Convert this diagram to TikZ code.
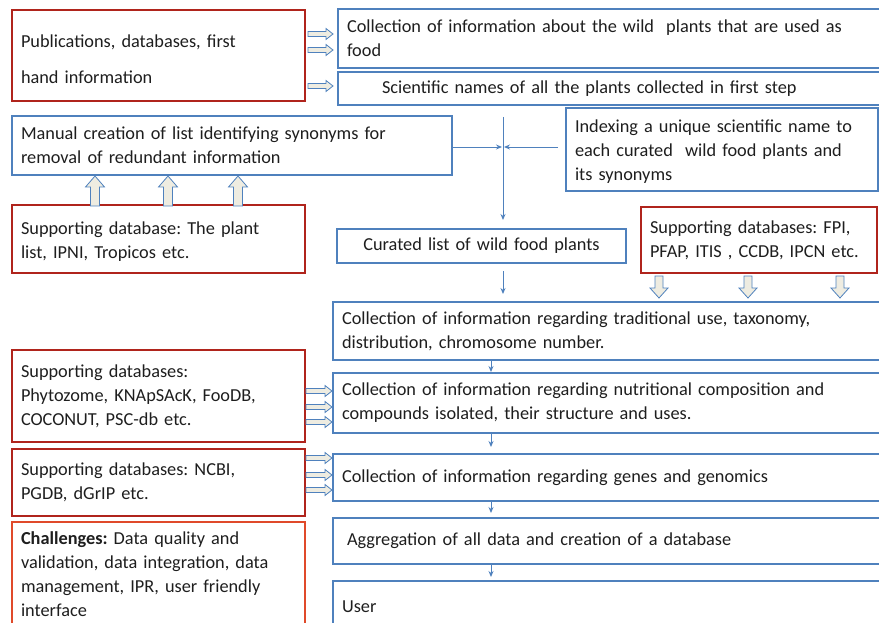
\documentclass[tikz,border=0pt]{standalone}
\usepackage{fontspec}
\setmainfont{Carlito}
\usetikzlibrary{calc,arrows.meta}
\frenchspacing

\definecolor{boxblue}{HTML}{4F81BD}
\definecolor{boxred}{HTML}{B0241C}
\definecolor{boxorange}{HTML}{E04A2A}
\definecolor{arrowfill}{HTML}{EEECE1}
\definecolor{ink}{HTML}{1E1E1E}

\tikzset{
  box/.style={draw, line width=1.8pt, outer sep=0pt, inner xsep=9pt, inner ysep=0pt,
    anchor=north west, align=left, text=ink, font=\fontsize{18.3}{24}\selectfont},
  bluebox/.style={box, draw=boxblue},
  redbox/.style={box, draw=boxred},
  chalbox/.style={box, draw=boxorange},
  flow/.style={draw=boxblue, line width=0.9pt, -{Stealth[length=6pt,width=5pt]}},
  hollow/.style={draw=boxblue, fill=arrowfill, line width=0.8pt, line join=miter},
}

% block arrow: #1 tail, #2 tip, #3 shaft half width, #4 head half width, #5 head length
\newcommand\blockarrow[5]{%
  \coordinate (ba-s) at #1;
  \coordinate (ba-t) at #2;
  \coordinate (ba-b) at ($(ba-t)!#5pt!(ba-s)$);
  \path[hollow] ($(ba-s)!#3pt!90:(ba-t)$) -- ($(ba-b)!#3pt!-90:(ba-s)$)
    -- ($(ba-b)!#4pt!-90:(ba-s)$) -- (ba-t) -- ($(ba-b)!#4pt!90:(ba-s)$)
    -- ($(ba-b)!#3pt!90:(ba-s)$) -- ($(ba-s)!#3pt!-90:(ba-t)$) -- cycle;
}

\begin{document}
\begin{tikzpicture}[x=1pt,y=-1pt]
\useasboundingbox (0,0) rectangle (879,623);

% sources and first steps
\node[redbox, minimum height=91, text width=275] (pub) at (12,10)
  {\rule{0pt}{20pt}Publications, databases, first\\[12pt]hand information};
\node[bluebox, minimum height=59, text width=526] (col) at (338,9)
  {Collection of information about the wild\ \ plants that are used as\\food};
\node[bluebox, minimum height=33, text width=526] (sci) at (338,72)
  {\hspace*{35pt}Scientific names of all the plants collected in first step};

% synonym curation
\node[bluebox, minimum height=59, text width=422] (manual) at (12,116)
  {Manual creation of list identifying synonyms for\\removal of redundant information};
\node[bluebox, minimum height=83, text width=294] (idx) at (566,108)
  {\rule{0pt}{17pt}\mbox{Indexing a unique scientific name to}\\each curated\ \ wild food plants and\\its synonyms};
\node[redbox, minimum height=68, text width=275] (plist) at (12,205)
  {\rule{0pt}{18pt}Supporting database: The plant\\list, IPNI, Tropicos etc.};
\node[bluebox, minimum height=34, text width=271, align=center] (cur) at (337,229)
  {Curated list of wild food plants};
\node[redbox, minimum height=66, text width=218] (fpi) at (641,207)
  {Supporting databases: FPI,\\\mbox{PFAP, ITIS , CCDB, IPCN etc.}};

% main pipeline
\node[bluebox, minimum height=58, text width=531] (trad) at (333,302)
  {Collection of information regarding traditional use, taxonomy,\\distribution, chromosome number.};
\node[bluebox, minimum height=60, text width=531] (nut) at (333,373)
  {Collection of information regarding nutritional composition and\\compounds isolated, their structure and uses.};
\node[bluebox, minimum height=47, text width=531] (gen) at (333,454)
  {Collection of information regarding genes and genomics};
\node[bluebox, minimum height=46, text width=531] (agg) at (333,518)
  {\hspace*{5pt}Aggregation of all data and creation of a database};
\node[bluebox, minimum height=52, text width=531] (user) at (333,581)
  {User};

% supporting resources and challenges
\node[redbox, minimum height=92, text width=275] (phy) at (12,350)
  {Supporting databases:\\Phytozome, KNApSAcK, FooDB,\\COCONUT, PSC-db etc.};
\node[redbox, minimum height=67, text width=275] (ncbi) at (12,449)
  {Supporting databases: NCBI,\\PGDB, dGrIP etc.};
\node[chalbox, minimum height=104, text width=275] (chal) at (12,522)
  {\textbf{Challenges:} Data quality and\\validation, data integration, data\\management, IPR, user friendly\\interface};

% hollow block arrows
\blockarrow{($(pub.north east)+(3,24)$)}{($(col.north west)+(-5,25)$)}{2.5}{5.5}{7}
\blockarrow{($(pub.north east)+(3,40)$)}{($(col.north west)+(-5,41)$)}{2.5}{5.5}{7}
\blockarrow{($(pub.north east)+(3,76)$)}{($(sci.north west)+(-5,14)$)}{2.5}{5.5}{7}

\blockarrow{($(plist.north west)+(83,1)$)}{($(manual.south west)+(83,1)$)}{4.5}{9.5}{11}
\blockarrow{($(plist.north west)+(156,1)$)}{($(manual.south west)+(156,1)$)}{4.5}{9.5}{11}
\blockarrow{($(plist.north west)+(226,1)$)}{($(manual.south west)+(226,1)$)}{4.5}{9.5}{11}

\blockarrow{($(fpi.south west)+(18,3)$)}{($(trad.north west)+(326,-4)$)}{4}{9}{10}
\blockarrow{($(fpi.south west)+(107,3)$)}{($(trad.north west)+(415,-4)$)}{4}{9}{10}
\blockarrow{($(fpi.south west)+(199,3)$)}{($(trad.north west)+(507,-4)$)}{4}{9}{10}

\blockarrow{($(phy.north east)+(1,41)$)}{($(nut.north west)+(-1,18)$)}{2.5}{5.5}{7}
\blockarrow{($(phy.north east)+(1,57)$)}{($(nut.north west)+(-1,34)$)}{2.5}{5.5}{7}
\blockarrow{($(phy.north east)+(1,72)$)}{($(nut.north west)+(-1,49)$)}{2.5}{5.5}{7}

\blockarrow{($(ncbi.north east)+(1,9)$)}{($(gen.north west)+(-1,4)$)}{2.5}{5.5}{7}
\blockarrow{($(ncbi.north east)+(1,26)$)}{($(gen.north west)+(-1,21)$)}{2.5}{5.5}{7}
\blockarrow{($(ncbi.north east)+(1,41)$)}{($(gen.north west)+(-1,36)$)}{2.5}{5.5}{7}

% thin flow arrows
\coordinate (meet) at ($(sci.south west)+(165,42)$);
\draw[flow] ($(sci.south west)+(165,12)$) -- ($(cur.north west)+(166,-9)$);
\draw[flow] (manual.east |- meet) -- ($(meet)+(-1,0)$);
\draw[flow] ($(idx.west |- meet)+(-8,0)$) -- ($(meet)+(1,0)$);
\draw[flow] ($(cur.south west)+(166,8)$) -- ($(trad.north west)+(170,-8)$);
\draw[flow] ($(trad.south west)+(158,0)$) -- ($(nut.north west)+(158,-1)$);
\draw[flow] ($(nut.south west)+(158,0)$) -- ($(gen.north west)+(158,-7)$);
\draw[flow] ($(gen.south west)+(158,0)$) -- ($(agg.north west)+(158,-5)$);
\draw[flow] ($(agg.south west)+(158,0)$) -- ($(user.north west)+(158,-4)$);
\end{tikzpicture}
\end{document}
